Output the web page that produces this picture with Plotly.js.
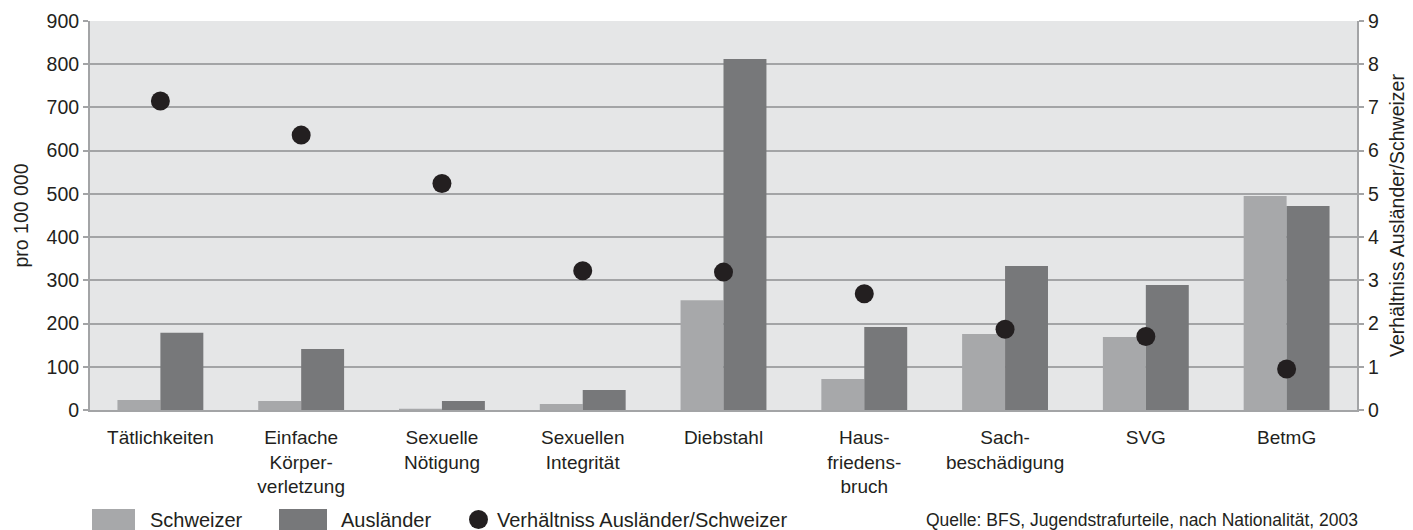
<!DOCTYPE html>
<html>
<head>
<meta charset="utf-8">
<script src="https://cdn.plot.ly/plotly-3.0.1.min.js"></script>
<style>html,body{margin:0;padding:0;background:#fff;}#chart{width:1413px;height:530px;}</style>
</head>
<body>
<div id="chart"></div>
<script>
// Data
const categories = ["Tätlichkeiten", "Einfache<br>Körper-<br>verletzung", "Sexuelle<br>Nötigung", "Sexuellen<br>Integrität", "Diebstahl", "Haus-<br>friedens-<br>bruch", "Sach-<br>beschädigung", "SVG", "BetmG"];
const schweizer = [23, 21, 3, 14, 254, 72, 176, 169, 495];
const auslaender = [179, 141, 21, 46, 812, 192, 333, 289, 472];
const verhaeltnis = [7.15, 6.36, 5.24, 3.22, 3.19, 2.69, 1.87, 1.70, 0.95];
const seriesNames = ["Schweizer", "Ausländer", "Verhältniss Ausländer/Schweizer"];
const sourceNote = "Quelle: BFS, Jugendstrafurteile, nach Nationalität, 2003";

const W = 1413, H = 530;
const M = {l: 90, r: 56, t: 21, b: 120};
const pw = W - M.l - M.r, ph = H - M.t - M.b;
const px = x => (x - M.l) / pw;
const py = y => (H - M.b - y) / ph;

const cLight = "#a7a8aa", cDark = "#77787a", cDot = "#231f20", cText = "#231f20", cGrid = "#a3a4a6";
const fam = "Liberation Sans, Arial, sans-serif";
const font = {family: fam, size: 19.5, color: cText};
const xfont = {family: fam, size: 19, color: cText};
const legFont = {family: fam, size: 20, color: cText};

const traces = [
  {type: "bar", name: seriesNames[0], x: categories, y: schweizer, marker: {color: cLight}, showlegend: false},
  {type: "bar", name: seriesNames[1], x: categories, y: auslaender, marker: {color: cDark}, showlegend: false},
  {type: "scatter", mode: "markers", name: seriesNames[2], x: categories, y: verhaeltnis, yaxis: "y2",
   marker: {color: cDot, size: 19}, showlegend: false}
];

const legendY = 520;
const layout = {
  width: W, height: H,
  margin: M,
  paper_bgcolor: "#ffffff",
  plot_bgcolor: "#e5e6e7",
  font: font,
  barmode: "group",
  bargap: 0.39,
  bargroupgap: 0,
  xaxis: {
    type: "category",
    range: [-0.5, categories.length - 0.5],
    showline: true, linecolor: cGrid, linewidth: 2,
    ticks: "outside", ticklen: 9, tickcolor: "rgba(0,0,0,0)", showgrid: false,
    tickfont: xfont, fixedrange: true, automargin: false
  },
  yaxis: {
    range: [0, 900], dtick: 100,
    showline: true, linecolor: cGrid, linewidth: 2,
    ticks: "outside", ticklen: 5, tickcolor: cGrid, tickwidth: 2,
    gridcolor: cGrid, gridwidth: 2, zeroline: false,
    tickfont: font, automargin: false,
    title: {text: "pro 100 000", font: font, standoff: 13}
  },
  yaxis2: {
    range: [0, 9], dtick: 1, overlaying: "y", side: "right",
    showline: true, linecolor: cGrid, linewidth: 2,
    ticks: "outside", ticklen: 5, tickcolor: cGrid, tickwidth: 2,
    showgrid: false, zeroline: false,
    tickfont: font, automargin: false,
    title: {text: "Verhältniss Ausländer/Schweizer", font: font, standoff: 12}
  },
  shapes: [
    {type: "rect", xref: "paper", yref: "paper", x0: px(92), x1: px(135), y0: py(509), y1: py(532), fillcolor: cLight, line: {width: 0}},
    {type: "rect", xref: "paper", yref: "paper", x0: px(279), x1: px(327), y0: py(509), y1: py(532), fillcolor: cDark, line: {width: 0}},
    {type: "circle", xref: "paper", yref: "paper", x0: px(469), x1: px(488), y0: py(510), y1: py(529), fillcolor: cDot, line: {width: 0}}
  ],
  annotations: [
    {xref: "paper", yref: "paper", x: px(148), y: py(legendY), xanchor: "left", yanchor: "middle", text: seriesNames[0], showarrow: false, font: legFont},
    {xref: "paper", yref: "paper", x: px(339), y: py(legendY), xanchor: "left", yanchor: "middle", text: seriesNames[1], showarrow: false, font: legFont},
    {xref: "paper", yref: "paper", x: px(495), y: py(legendY), xanchor: "left", yanchor: "middle", text: seriesNames[2], showarrow: false, font: legFont},
    {xref: "paper", yref: "paper", x: px(1360), y: py(legendY), xanchor: "right", yanchor: "middle", text: sourceNote, showarrow: false, font: {family: fam, size: 17.5, color: cText}}
  ]
};

Plotly.newPlot("chart", traces, layout, {displayModeBar: false, staticPlot: true});
</script>
</body>
</html>
